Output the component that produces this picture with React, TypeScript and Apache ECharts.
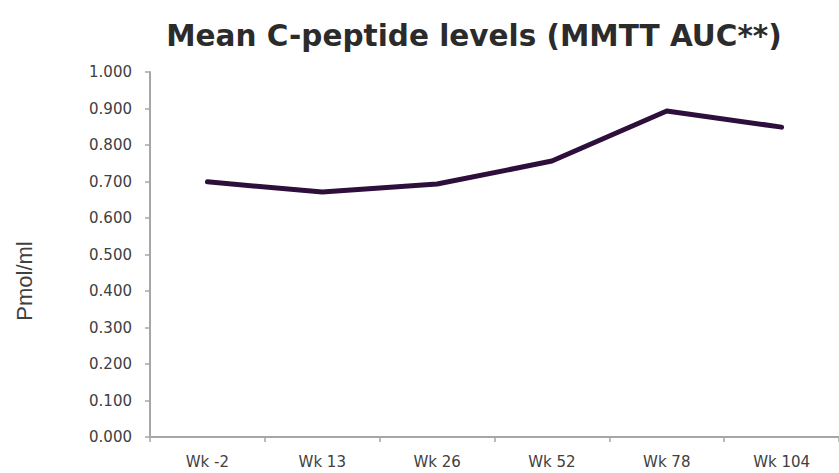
import React, { useEffect, useRef } from "react";
import * as echarts from "echarts";

const categories = ["Wk -2", "Wk 13", "Wk 26", "Wk 52", "Wk 78", "Wk 104"];
const values = [0.699, 0.671, 0.693, 0.756, 0.893, 0.849];
const yTicks = { min: 0, max: 1, interval: 0.1 };

export default function App() {
  const ref = useRef<HTMLDivElement>(null);
  useEffect(() => {
    if (!ref.current) return;
    const chart = echarts.init(ref.current, undefined, { renderer: "svg" });
    chart.setOption({
      animation: false,
      backgroundColor: "#ffffff",
      title: {
        text: "Mean C-peptide levels (MMTT AUC**)",
        left: 469,
        textAlign: "center",
        top: 16,
        textStyle: { fontFamily: "DejaVu Sans", fontWeight: "bold", fontSize: 29.5, color: "#2b2b2b" },
      },
      grid: { left: 150, right: -6, top: 72, bottom: 36 },
      xAxis: {
        type: "category",
        data: categories,
        boundaryGap: true,
        axisLine: { lineStyle: { color: "#a6a6a6", width: 2 } },
        axisTick: { show: true, length: 5, lineStyle: { color: "#a6a6a6", width: 1.5 } },
        axisLabel: { color: "#404040", fontFamily: "DejaVu Sans", fontSize: 15, margin: 17 },
      },
      yAxis: {
        type: "value",
        min: yTicks.min,
        max: yTicks.max,
        interval: yTicks.interval,
        splitLine: { show: false },
        axisLine: { show: true, lineStyle: { color: "#a6a6a6", width: 2 } },
        axisTick: { show: true, length: 5, lineStyle: { color: "#a6a6a6", width: 1.5 } },
        axisLabel: {
          color: "#404040",
          fontFamily: "DejaVu Sans",
          fontSize: 15,
          margin: 18,
          formatter: (v: number) => v.toFixed(3),
        },
      },
      graphic: [
        {
          type: "text",
          x: 24,
          y: 281,
          rotation: Math.PI / 2,
          style: {
            text: "Pmol/ml",
            fontFamily: "Liberation Sans",
            fontSize: 22,
            fill: "#404040",
            align: "center",
            verticalAlign: "middle",
          },
        },
      ],
      series: [
        {
          type: "line",
          data: values,
          symbol: "none",
          lineStyle: { color: "#2e0f3c", width: 5, cap: "round", join: "round" },
        },
      ],
    });
    return () => chart.dispose();
  }, []);
  return <div ref={ref} style={{ width: 839, height: 473, position: "absolute", left: 0, top: 0 }} />;
}
